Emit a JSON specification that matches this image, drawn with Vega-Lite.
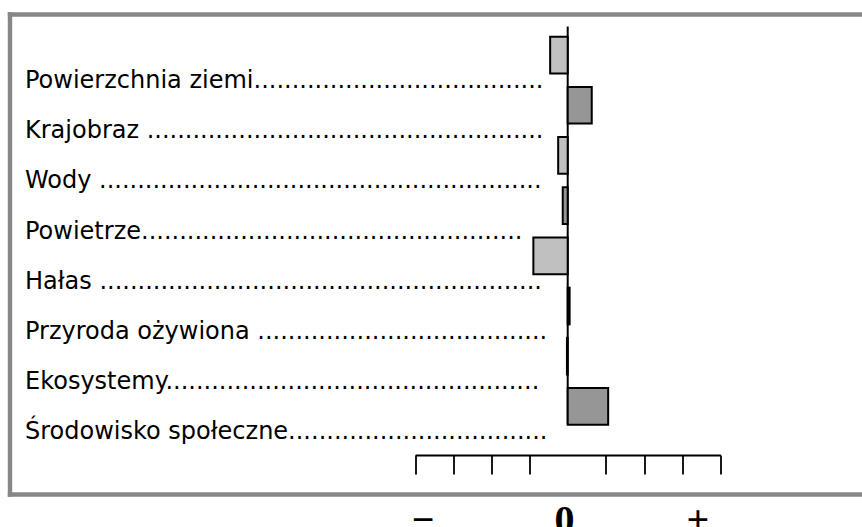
{
  "$schema": "https://vega.github.io/schema/vega-lite/v6.json",
  "width": 852.5,
  "height": 480,
  "padding": {"left": 9.5, "top": 14, "right": 0, "bottom": 33},
  "autosize": {"type": "none"},
  "background": "white",
  "config": {"view": {"stroke": null}},
  "data": {
    "values": [
      {"kategoria": "Powierzchnia ziemi......................................", "wartosc": -0.46, "wariant": "A"},
      {"kategoria": "Krajobraz ....................................................", "wartosc": 0.63, "wariant": "B"},
      {"kategoria": "Wody ..........................................................", "wartosc": -0.25, "wariant": "A"},
      {"kategoria": "Powietrze..................................................", "wartosc": -0.13, "wariant": "B"},
      {"kategoria": "Hałas ..........................................................", "wartosc": -0.9, "wariant": "A"},
      {"kategoria": "Przyroda ożywiona ......................................", "wartosc": 0.05, "wariant": "B"},
      {"kategoria": "Ekosystemy.................................................", "wartosc": -0.02, "wariant": "A"},
      {"kategoria": "Środowisko społeczne..................................", "wartosc": 1.06, "wariant": "B"}
    ]
  },
  "resolve": {"axis": {"x": "independent", "y": "independent"}},
  "layer": [
    {
      "data": {"values": [{}]},
      "mark": {"type": "rule", "color": "black", "strokeWidth": 2},
      "encoding": {
        "x": {
          "datum": 0,
          "type": "quantitative",
          "axis": {
            "orient": "bottom",
            "offset": -39,
            "domain": true,
            "domainColor": "black",
            "domainWidth": 1.8,
            "domainDash": [0, 405.6, 305.3, 1000],
            "ticks": true,
            "tickColor": "black",
            "tickWidth": 1.8,
            "tickSize": 19,
            "values": [-4, -3, -2, -1, 1, 2, 3, 4],
            "labels": false,
            "grid": false,
            "title": null
          }
        },
        "y": {"datum": "Powierzchnia ziemi......................................", "type": "nominal", "bandPosition": -0.28, "axis": null},
        "y2": {"datum": "Środowisko społeczne..................................", "bandPosition": 1}
      }
    },
    {
      "mark": {"type": "bar", "stroke": "black", "strokeWidth": 2},
      "encoding": {
        "y": {
          "field": "kategoria",
          "type": "nominal",
          "sort": null,
          "scale": {
            "domain": [
              "Powierzchnia ziemi......................................",
              "Krajobraz ....................................................",
              "Wody ..........................................................",
              "Powietrze..................................................",
              "Hałas ..........................................................",
              "Przyroda ożywiona ......................................",
              "Ekosystemy.................................................",
              "Środowisko społeczne.................................."
            ],
            "paddingInner": 0.269,
            "paddingOuter": 0.9155,
            "align": 0.247,
            "round": false
          },
          "axis": {
            "orient": "left",
            "domain": true,
            "domainColor": "#878787",
            "domainWidth": 4.4,
            "domainCap": "square",
            "ticks": false,
            "tickSize": 0,
            "grid": false,
            "labelAlign": "left",
            "labelBaseline": "alphabetic",
            "labelPadding": -15,
            "labelOffset": 33,
            "labelFont": "DejaVu Sans",
            "labelFontSize": 24,
            "labelColor": "black",
            "labelLimit": 0,
            "title": null
          }
        },
        "x": {
          "field": "wartosc",
          "type": "quantitative",
          "scale": {"domain": [-14.628, 7.712], "nice": false, "zero": false},
          "axis": {
            "orient": "bottom",
            "domain": true,
            "domainColor": "#878787",
            "domainWidth": 4.4,
            "domainCap": "square",
            "ticks": false,
            "tickSize": 0,
            "grid": false,
            "values": [-3.8, -0.1, 3.4],
            "labelExpr": "datum.value < -1 ? '−' : (datum.value > 1 ? '+' : '0')",
            "labelFont": "Liberation Serif",
            "labelFontWeight": "bold",
            "labelFontSize": 40,
            "labelColor": "black",
            "labelBaseline": "alphabetic",
            "labelAlign": "center",
            "labelPadding": 38,
            "labelFlush": false,
            "labelOverlap": false,
            "title": null
          }
        },
        "x2": {"datum": 0},
        "fill": {
          "field": "wariant",
          "type": "nominal",
          "scale": {"domain": ["A", "B"], "range": ["#c0c0c0", "#969696"]},
          "legend": null
        }
      }
    },
    {
      "data": {"values": [{}]},
      "mark": {"type": "rule", "color": "black", "strokeWidth": 2, "opacity": 0},
      "encoding": {
        "x": {
          "datum": 0,
          "type": "quantitative",
          "axis": {
            "orient": "top",
            "domain": true,
            "domainColor": "#878787",
            "domainWidth": 4.4,
            "domainCap": "square",
            "ticks": false,
            "labels": false,
            "grid": false,
            "title": null
          }
        },
        "y": {"datum": "Powierzchnia ziemi......................................", "type": "nominal", "bandPosition": -0.28, "axis": null},
        "y2": {"datum": "Środowisko społeczne..................................", "bandPosition": 1}
      }
    }
  ]
}
